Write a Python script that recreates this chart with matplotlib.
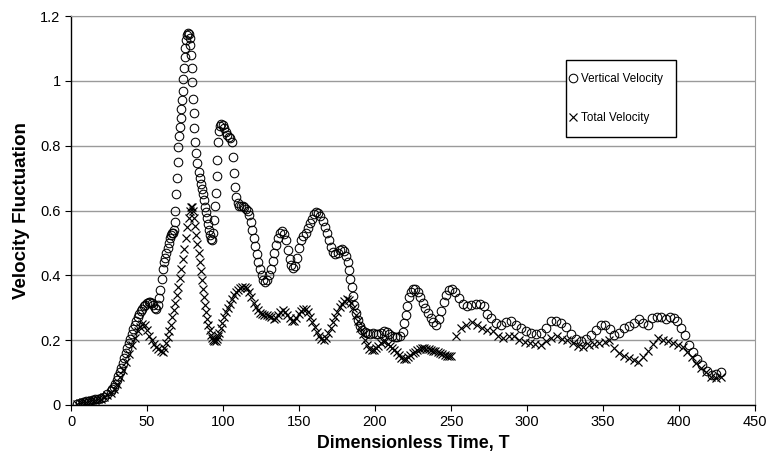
import matplotlib

matplotlib.use("Agg")
import matplotlib.pyplot as plt
from matplotlib.patches import Rectangle

plt.rcParams["font.family"] = ["Liberation Sans", "DejaVu Sans"]

# vertical velocity fluctuation (open circles)
vert_t = [4, 6, 8, 10, 12, 14, 16, 18, 20, 22, 24, 26, 27, 28, 29, 30, 31, 32, 33, 34,
          35, 36, 37, 38, 39, 40, 41, 42, 43, 44, 45, 46, 47, 48, 49, 50, 51, 52, 53, 54,
          55, 56, 57, 58, 58.8, 59.6, 60.4, 61.2, 62, 62.8, 63.6, 64.4, 65, 65.6, 66.3, 67,
          67.6, 68.2, 68.7, 69.2, 69.7, 70.1, 70.6, 71.1, 71.6, 72.1, 72.6, 73.1, 73.5, 73.9,
          74.3, 74.7, 75.1, 75.6, 76.2, 76.9, 77.6, 78.1, 78.6, 79.0, 79.4, 79.8, 80.2, 80.6,
          81.2, 81.8, 82.5, 83.2, 83.9, 84.6, 85.3, 86.0, 86.7, 87.4, 88.1, 88.8, 89.5, 90.2,
          90.9, 91.6, 92.3, 93.0, 93.7, 94.3, 94.9, 95.4, 95.9, 96.3, 96.8, 97.4, 98.2, 99.0,
          99.9, 100.8, 101.8, 102.8, 103.8, 104.8, 105.7, 106.4, 107.1, 107.9, 108.8, 109.8,
          110.8, 111.9, 113.0, 114.1, 115.2, 116.3, 117.3, 118.3, 119.3, 120.3, 121.3, 122.3,
          123.3, 124.3, 125.4, 126.6, 127.8, 129.0, 130.2, 131.4, 132.6, 133.8, 135.0, 136.3,
          137.6, 138.9, 140.2, 141.4, 142.6, 143.8, 145.0, 146.3, 147.6, 148.9, 150.2, 151.5,
          152.9, 154.3, 155.7, 157.1, 158.5, 159.9, 161.3, 162.7, 164.1, 165.5, 166.9, 168.3,
          169.7, 171.1, 172.5, 173.9, 175.4, 176.9, 178.4, 179.9, 181.2, 182.2, 183.0, 183.8,
          184.6, 185.5, 186.5, 187.6, 188.8, 190.1, 191.6, 193.2, 195.0, 196.8, 198.6, 200.4,
          202.2, 204.0, 205.8, 207.6, 209.4, 211.2, 213.0, 214.8, 216.6, 218.2, 219.3, 220.3,
          221.3, 222.4, 223.6, 225.0, 226.6, 228.2, 229.8, 231.4, 233.0, 234.8, 236.6, 238.4,
          240.2, 242.0, 243.6, 245.2, 246.8, 248.6, 250.6, 252.8, 255.2, 257.8, 260.6, 263.4,
          266.2, 269.0, 271.6, 273.6, 276.4, 279.6, 282.9, 286.2, 289.5, 292.8, 296.1, 299.4,
          302.6, 305.9, 309.2, 312.5, 315.8, 319.1, 322.4, 325.7, 329.0, 332.2, 335.5, 338.8,
          342.1, 345.4, 348.4, 351.4, 354.4, 357.5, 360.7, 364.0, 367.3, 370.6, 373.6, 376.4,
          379.4, 382.5, 385.3, 388.3, 391.3, 394.0, 396.5, 399.0, 401.5, 404.0, 406.6, 409.2,
          412.0, 415.0, 418.3, 421.6, 424.6, 427.7]
vert_v = [.004, .006, .009, .011, .013, .015, .017, .019, .022, .026, .033, .042, .048, .056,
          .065, .076, .088, .101, .115, .130, .145, .160, .175, .190, .205, .220, .234, .247,
          .259, .270, .280, .289, .297, .304, .310, .314, .317, .318, .315, .308, .300, .296,
          .310, .330, .355, .390, .420, .440, .455, .470, .485, .500, .515, .525, .532, .530,
          .540, .565, .600, .650, .700, .750, .795, .830, .858, .885, .912, .940, .970, 1.005,
          1.040, 1.072, 1.100, 1.125, 1.140, 1.148, 1.146, 1.133, 1.110, 1.080, 1.040, .995,
          .945, .900, .855, .812, .776, .746, .720, .700, .683, .666, .650, .632, .612, .594,
          .576, .558, .540, .524, .512, .510, .530, .570, .615, .655, .705, .757, .810, .845,
          .862, .868, .865, .856, .842, .832, .828, .825, .810, .765, .715, .672, .642, .622,
          .615, .613, .615, .612, .606, .598, .585, .565, .540, .515, .490, .465, .440, .418,
          .400, .387, .380, .385, .400, .420, .445, .470, .495, .515, .530, .536, .528, .508,
          .478, .450, .432, .422, .430, .455, .485, .508, .522, .532, .545, .560, .575, .588,
          .594, .591, .582, .568, .550, .530, .510, .488, .472, .466, .470, .477, .480, .475,
          .460, .440, .415, .390, .363, .335, .308, .284, .263, .245, .232, .225, .221, .220,
          .221, .220, .218, .222, .227, .225, .220, .213, .210, .210, .214, .226, .252, .278,
          .305, .332, .350, .358, .358, .348, .333, .315, .298, .283, .268, .256, .246, .265,
          .290, .318, .340, .354, .357, .350, .330, .312, .304, .308, .311, .312, .306, .280,
          .268, .253, .247, .256, .258, .248, .237, .227, .221, .219, .222, .236, .258, .260,
          .254, .240, .220, .203, .198, .205, .216, .232, .248, .246, .235, .217, .222, .236,
          .243, .254, .264, .252, .248, .267, .271, .270, .266, .272, .268, .258, .238, .216,
          .186, .162, .142, .122, .104, .093, .096, .102]

# total velocity fluctuation (crosses)
total_t = [4, 6, 8, 10, 12, 14, 16, 18, 20, 22, 24, 26, 28, 30, 32, 34, 36, 38, 40, 42, 44,
           45.5, 47, 48.5, 50, 51.5, 53, 54.5, 56, 57.5, 59, 60.3, 61.5, 62.5, 63.5, 64.5,
           65.5, 66.5, 67.5, 68.5, 69.5, 70.5, 71.5, 72.5, 73.5, 74.5, 75.5, 76.5, 77.5, 78.3,
           79.0, 79.7, 80.4, 81.1, 81.8, 82.5, 83.2, 83.9, 84.6, 85.3, 86.0, 86.7, 87.4, 88.1,
           88.8, 89.6, 90.4, 91.2, 92.0, 92.8, 93.6, 94.4, 95.2, 96.0, 96.8, 97.6, 98.6, 99.6,
           100.6, 101.8, 103.0, 104.3, 105.6, 107.0, 108.4, 109.8, 111.3, 112.8, 114.3, 115.8,
           117.3, 118.7, 120.1, 121.5, 122.9, 124.3, 125.8, 127.3, 128.8, 130.3, 131.8, 133.3,
           134.8, 136.3, 137.8, 139.3, 140.8, 142.3, 143.8, 145.3, 146.8, 148.3, 149.8, 151.3,
           152.8, 154.3, 155.8, 157.3, 158.8, 160.3, 161.8, 163.3, 164.8, 166.3, 167.8, 169.3,
           170.8, 172.3, 173.8, 175.3, 176.8, 178.3, 179.8, 181.3, 182.8, 184.3, 185.8, 187.3,
           188.8, 190.3, 191.8, 193.3, 194.8, 196.3, 197.8, 199.3, 200.8, 202.3, 203.8, 205.3,
           206.8, 208.3, 209.8, 211.3, 212.8, 214.3, 215.8, 217.3, 218.8, 220.3, 221.8, 223.3,
           224.8, 226.3, 227.8, 229.3, 230.8, 232.3, 233.8, 235.3, 236.8, 238.3, 239.8, 241.3,
           242.8, 244.3, 245.8, 247.3, 248.8, 250.3, 253.3, 256.5, 260.0, 263.5, 267.0, 270.5,
           274.0, 277.5, 281.0, 284.5, 288.0, 291.5, 295.0, 298.5, 302.0, 305.5, 309.0, 312.5,
           316.0, 319.5, 323.0, 326.5, 330.0, 333.5, 337.0, 340.5, 344.0, 347.5, 351.0, 354.2,
           357.5, 360.8, 364.0, 367.3, 370.3, 373.2, 376.1, 379.4, 382.7, 386.5, 389.8, 393.0,
           396.2, 399.4, 402.5, 405.5, 408.5, 411.5, 414.5, 417.8, 421.1, 424.4, 427.7]
total_v = [.003, .005, .008, .010, .012, .014, .016, .018, .020, .024, .030, .038, .050, .066,
           .086, .108, .132, .158, .184, .208, .228, .242, .250, .248, .232, .214, .200, .188,
           .179, .172, .166, .163, .175, .192, .210, .228, .248, .270, .292, .315, .340, .365,
           .392, .420, .450, .482, .515, .548, .578, .600, .612, .612, .600, .578, .552, .525,
           .497, .468, .440, .412, .385, .358, .332, .308, .286, .265, .246, .230, .216, .206,
           .199, .196, .197, .203, .212, .222, .238, .254, .270, .286, .300, .313, .326, .338,
           .348, .354, .360, .364, .364, .360, .348, .332, .316, .303, .292, .285, .281, .279,
           .278, .275, .270, .266, .268, .278, .288, .292, .286, .277, .267, .260, .260, .268,
           .280, .290, .296, .296, .288, .272, .256, .240, .226, .213, .203, .200, .207, .222,
           .238, .255, .272, .288, .302, .313, .322, .328, .325, .314, .298, .278, .258, .238,
           .218, .200, .184, .174, .169, .170, .175, .182, .190, .196, .196, .189, .182, .176,
           .170, .162, .154, .146, .141, .142, .147, .153, .159, .165, .170, .174, .177, .176,
           .174, .172, .170, .168, .166, .163, .160, .157, .154, .152, .150, .152, .212, .236,
           .246, .255, .248, .238, .231, .228, .212, .208, .214, .212, .202, .193, .190, .188,
           .186, .198, .206, .212, .203, .200, .192, .183, .180, .184, .189, .190, .194, .200,
           .176, .160, .151, .146, .140, .134, .148, .168, .188, .208, .202, .196, .192, .186,
           .178, .165, .148, .130, .115, .102, .085, .082, .087]

x_ticks = [0, 50, 100, 150, 200, 250, 300, 350, 400, 450]
y_ticks = [0, 0.2, 0.4, 0.6, 0.8, 1.0, 1.2]
y_tick_labels = ["0", "0.2", "0.4", "0.6", "0.8", "1", "1.2"]

fig = plt.figure(figsize=(7.69, 4.63), dpi=100)
ax = fig.add_axes([71 / 769, 58 / 463, 684 / 769, 389 / 463])

ax.plot(vert_t, vert_v, linestyle="none", marker="o", markersize=6.2,
        markerfacecolor="none", markeredgecolor="black", markeredgewidth=0.75,
        label="Vertical Velocity")
ax.plot(total_t, total_v, linestyle="none", marker="x", markersize=6.2,
        color="black", markeredgewidth=0.85, label="Total Velocity")

ax.set_xlim(0, 450)
ax.set_ylim(0, 1.2)
ax.set_xticks(x_ticks)
ax.set_yticks(y_ticks)
ax.set_yticklabels(y_tick_labels)
ax.tick_params(direction="out", length=4, width=0.8, labelsize=10.5, colors="black")
ax.yaxis.grid(True, color="#9a9a9a", linewidth=1.0)
ax.set_axisbelow(True)

for side in ("top", "right"):
    ax.spines[side].set_color("#9a9a9a")
for side in ("left", "bottom"):
    ax.spines[side].set_color("black")
    ax.spines[side].set_linewidth(1.0)

ax.set_xlabel("Dimensionless Time, T", fontsize=12.8, fontweight="bold", labelpad=4)
ax.set_ylabel("Velocity Fluctuation", fontsize=13.5, fontweight="bold", labelpad=7)

# legend box (Excel style: taller than the entries need)
ax.add_patch(Rectangle((0.7237, 0.689), 0.1608, 0.198, transform=ax.transAxes,
                       facecolor="white", edgecolor="black", linewidth=1.0, zorder=4))
leg = ax.legend(loc="center left", bbox_to_anchor=(0.727, 0.788), fontsize=8.4,
                frameon=False, handletextpad=0.3, handlelength=0.8,
                labelspacing=2.25, borderpad=0, borderaxespad=0)
leg.set_zorder(5)

fig.savefig("out.png", dpi=100)
